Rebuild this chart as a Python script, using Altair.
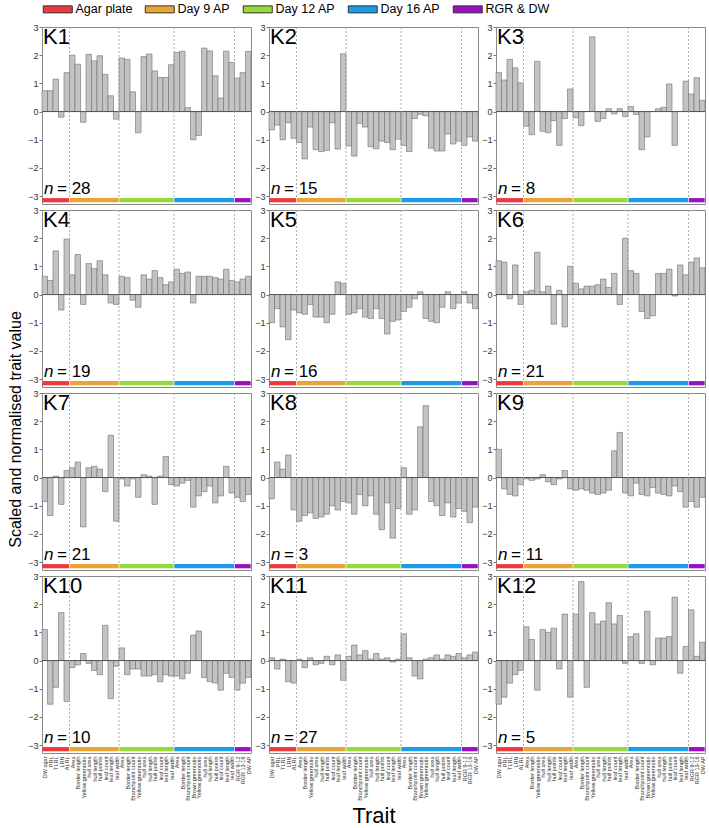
import altair as alt
import pandas as pd

FONT = "Liberation Sans"

group_names = ["Agar plate", "Day 9 AP", "Day 12 AP", "Day 16 AP", "RGR & DW"]
group_sizes = [5, 9, 10, 11, 3]
group_colors = ["#EB3A3C", "#E8A535", "#98D93A", "#1B9CEA", "#9A10C0"]

traits = [
    "DW agar", "PRL", "TLRL", "LRN", "ALRL",
    "Area", "Border length", "Yellow:greenratio", "hull area", "hull length",
    "hull points", "leaf count", "leaf length", "leaf width",
    "Area", "Border length", "Branchpoint count", "Yellow:greenratio", "hull area",
    "hull length", "hull points", "leaf count", "leaf length", "leaf width",
    "Area", "Border length", "Branchpoint count", "Brown:greenratio", "Yellow:greenratio",
    "hull area", "hull length", "hull points", "leaf count", "leaf length", "leaf width",
    "RGR 9-12", "RGR 13-16", "DW AP",
]

panel_names = ["K1", "K2", "K3", "K4", "K5", "K6", "K7", "K8", "K9", "K10", "K11", "K12"]
panel_n = [28, 15, 8, 19, 16, 21, 21, 3, 11, 10, 27, 5]

K1 = [0.74, 0.74, 1.15, -0.2, 1.38,
      2.0, 1.68, -0.38, 2.03, 1.8, 1.98, 1.32, 0.56, -0.27,
      1.9, 1.85, 0.7, -0.75, 1.95, 2.04, 1.44, 1.21, 1.21, 1.66,
      2.1, 2.14, 0.14, -1.0, -0.85, 2.25, 2.15, 1.27, 0.48, 2.14, 1.74,
      1.19, 1.38, 2.13]
K2 = [-0.65, -0.48, -1.0, -0.4, -0.95,
      -1.1, -1.68, -0.55, -1.35, -1.42, -1.38, -0.4, -1.33, 2.05,
      -1.22, -1.58, -0.42, -0.55, -1.25, -1.32, -1.05, -1.1, -1.35, -0.98,
      -1.2, -1.42, -0.25, -0.1, -0.15, -1.3, -1.4, -1.4, -0.8, -1.15, -1.05,
      -1.2, -0.9, -1.05]
K3 = [1.38, 1.12, 1.85, 1.55, 1.02,
      -0.52, -0.82, 1.78, -0.7, -0.75, -0.32, -1.2, -0.25, 0.8,
      -0.22, -0.5, 0.0, 2.65, -0.35, -0.25, 0.1, -0.08, 0.1, -0.18,
      0.18, -0.1, -1.35, -0.9, 0.0, 0.1, 0.15, 0.98, -1.2, 0.0, 1.08,
      0.62, 1.2, 0.4]
K4 = [0.65, 0.5, 1.55, -0.55, 1.97,
      0.7, 1.42, -0.35, 1.1, 0.92, 1.2, 0.7, -0.3, -0.35,
      0.65, 0.6, -0.2, -0.45, 0.7, 0.55, 0.85, 0.6, 0.35, 0.45,
      0.9, 0.75, 0.8, -0.3, 0.65, 0.65, 0.65, 0.6, 0.55, 0.9, 0.5,
      0.45, 0.55, 0.65]
K5 = [-1.0, -0.5, -1.15, -1.6, -0.55,
      -0.65, -0.7, -0.35, -0.8, -0.8, -1.0, -0.7, 0.45, 0.4,
      -0.7, -0.65, -0.5, -0.8, -0.85, -0.5, -0.85, -1.4, -0.95, -0.9,
      -0.6, -0.45, -0.15, 0.1, -0.85, -0.95, -1.0, -0.45, 0.1, -0.5, -0.3,
      0.1, -0.3, -0.5]
K6 = [1.2, 1.15, -0.15, 1.05, -0.35,
      0.1, 0.15, 1.5, 0.1, 0.3, -1.05, 0.15, -1.15, 1.0,
      0.4, 0.2, 0.3, 0.3, 0.35, 0.55, 0.25, 0.75, -0.35, 2.0,
      0.85, 0.75, -0.6, -0.85, -0.75, 0.75, 0.75, 0.9, -0.05, 1.05, 0.7,
      1.15, 1.3, 0.95]
K7 = [-0.85, -1.35, 0.05, -0.95, 0.25,
      0.35, 0.55, -1.75, 0.35, 0.4, 0.3, -0.5, 1.5, -1.55,
      -0.05, -0.3, -0.05, -0.7, 0.1, 0.05, -0.95, 0.05, 0.75, -0.25,
      -0.3, -0.2, -0.1, -1.05, -0.65, -0.5, -0.3, -0.9, -0.65, 0.4, -0.55,
      -0.7, -0.85, -0.6]
K8 = [-0.75, 0.55, 0.3, 0.8, -1.15,
      -1.55, -1.35, -1.25, -1.45, -1.4, -1.3, -1.0, -1.15, -0.85,
      -0.9, -1.3, -0.6, -1.0, -0.65, -1.3, -1.85, -0.9, -2.15, -1.1,
      0.35, -1.3, -1.15, 1.8, 2.55, -0.85, -1.0, -1.35, -0.9, -1.4, -1.1,
      -1.2, -1.6, -1.05]
K9 = [1.0, -0.4, -0.6, -0.65, -0.25,
      -0.05, -0.1, -0.05, 0.1, -0.15, -0.25, -0.05, 0.25, -0.4,
      -0.45, -0.4, -0.45, -0.55, -0.6, -0.55, -0.45, 0.95, 1.6, -0.55,
      -0.65, -0.2, -0.6, -0.65, -0.35, -0.55, -0.6, -0.65, -0.3, -0.5, -1.05,
      -0.85, -1.05, -0.7]
K10 = [1.1, -1.55, -0.95, 1.7, -1.45,
       -0.25, -0.15, 0.25, -0.1, -0.35, -0.5, 1.25, -1.35, -0.2,
       0.45, -0.5, -0.3, -0.3, -0.55, -0.55, -0.5, -0.75, -0.5, -0.55,
       -0.55, -0.65, -0.45, 0.9, 1.05, -0.6, -0.75, -0.8, -1.05, -0.45, -0.6,
       -1.05, -0.8, -0.6]
K11 = [0.1, -0.3, 0.05, -0.75, -0.8,
       0.05, -0.25, 0.1, -0.15, -0.1, 0.15, -0.15, 0.2, -0.7,
       0.15, 0.55, 0.2, 0.35, 0.05, 0.25, 0.05, 0.1, -0.05, 0.05,
       0.95, 0.1, -0.55, -0.65, 0.05, 0.1, 0.2, 0.05, 0.2, 0.15, 0.25,
       0.1, 0.2, 0.3]
K12 = [-1.55, -1.3, -0.8, -0.5, -0.35,
       1.2, 0.75, -1.05, 1.1, 1.0, 1.15, -0.3, 1.65, -1.3,
       1.65, 2.8, -0.95, 1.7, 1.3, 1.4, 2.05, 1.3, 1.6, -0.1,
       0.85, 0.95, -0.1, 1.75, -0.15, 0.8, 0.8, 0.85, 2.25, -0.45, 0.5,
       1.8, 0.15, 0.65]

values = [K1, K2, K3, K4, K5, K6, K7, K8, K9, K10, K11, K12]

n_traits = len(traits)
starts = []
acc = 0
for s in group_sizes:
    starts.append(acc)
    acc += s
ends = [st + s for st, s in zip(starts, group_sizes)]
boundaries = starts[1:]

strip_df = pd.DataFrame({
    "group": group_names,
    "start": [st + 0.06 for st in starts],
    "end": [e - 0.06 for e in ends],
})
bnd_df = pd.DataFrame({"b": boundaries})
one_df = pd.DataFrame({"z": [0]})

label_expr = "[" + ",".join("'" + t + "'" for t in traits) + "][floor(datum.value)]"
x_tick_values = [k + 0.5 for k in range(n_traits)]
y_tick_values = [-3, -2, -1, 0, 1, 2, 3]

xscale = alt.Scale(domain=[0, n_traits], nice=False, zero=False)
yscale = alt.Scale(domain=[-3.28, 3], nice=False, zero=False)

# wide, flat legend swatch: a small layout symbol drawn with an extended path
legend = alt.Legend(
    orient="top", offset=6, direction="horizontal", title=None,
    symbolType="M-1,-0.7H4.8V0.7H-1Z", symbolSize=100,
    symbolStrokeColor="#333333", symbolStrokeWidth=1, symbolOpacity=1,
    labelFontSize=12.5, labelOffset=21, columnPadding=10, labelColor="#000000",
    labelFont=FONT, columns=5,
)


def panel(i):
    row, col = divmod(i, 3)
    df = pd.DataFrame({"idx": list(range(n_traits)), "value": values[i]})
    df["x0"] = df["idx"]
    df["x1"] = df["idx"] + 1

    if row == 3:
        xaxis = alt.Axis(
            values=x_tick_values, tickCount=len(x_tick_values), labelExpr=label_expr,
            labelAngle=270, labelFontSize=5.5, ticks=False, domain=False, grid=False,
            labelPadding=3, labelColor="#333333", labelOverlap=False, labelFlush=False,
            title="Trait" if col == 1 else None,
            titleFontSize=22, titleFontWeight="normal", titleY=52,
            titleBaseline="top", titleColor="#000000",
        )
    else:
        xaxis = None

    ykw = dict(values=y_tick_values, tickCount=len(y_tick_values), tickSize=3, labelFontSize=9,
               domain=False, grid=False, tickColor="#777777", labelColor="#333333",
               labelPadding=1, labelOverlap=False, labelFlush=False)
    if i == 3:
        yaxis = alt.Axis(title="Scaled and normalised trait value", titleFontSize=16,
                         titleFontWeight="normal", titleX=-27, titleY=219,
                         titleAlign="center", titleBaseline="middle",
                         titleColor="#000000", **ykw)
    else:
        yaxis = alt.Axis(title=None, **ykw)

    bars = alt.Chart(df).mark_rect(fill="#C3C3C3", stroke="#6F6F6F", strokeWidth=0.6).encode(
        x=alt.X("x0:Q", scale=xscale, axis=xaxis),
        x2="x1:Q",
        y=alt.Y("value:Q", scale=yscale, axis=yaxis),
        y2=alt.datum(0),
    )
    zero = alt.Chart(one_df).mark_rule(color="#555555", strokeWidth=1).encode(y="z:Q")
    dashed = alt.Chart(bnd_df).mark_rule(strokeDash=[2, 2], color="#9A9A9A", strokeWidth=0.8).encode(
        x="b:Q", y=alt.datum(3), y2=alt.datum(-3.07)
    )
    strip = alt.Chart(strip_df).mark_rect().encode(
        x="start:Q", x2="end:Q", y=alt.datum(-3.07), y2=alt.datum(-3.22),
        color=alt.Color("group:N", scale=alt.Scale(domain=group_names, range=group_colors),
                        legend=legend),
    )
    ktext = alt.Chart(one_df).mark_text(align="left", baseline="top", fontSize=22, dx=1, dy=0,
                                        color="#000000").encode(
        x=alt.datum(0), y=alt.datum(3), text=alt.value(panel_names[i])
    )
    ntext = alt.Chart(one_df).mark_text(align="left", baseline="alphabetic", fontSize=17,
                                        fontStyle="italic", dx=2, dy=-2, color="#000000").encode(
        x=alt.datum(0), y=alt.datum(-3), text=alt.value("n")
    )
    nval = alt.Chart(one_df).mark_text(align="left", baseline="alphabetic", fontSize=17,
                                       dx=15, dy=-2, color="#000000").encode(
        x=alt.datum(0), y=alt.datum(-3), text=alt.value("= " + str(panel_n[i]))
    )
    return alt.layer(bars, zero, dashed, strip, ktext, ntext, nval).properties(width=209, height=177)


chart = alt.concat(
    *[panel(i) for i in range(12)], columns=3, spacing={"row": 6, "column": 18}, bounds="flush"
).properties(
    padding={"left": 6, "top": 3, "right": 2, "bottom": 2}
).configure(font=FONT).configure_view(
    stroke="#8A8A8A", strokeWidth=1
).configure_axis(labelOverlap=False, labelFlush=False)

chart.save("out.html", embed_options={"renderer": "svg", "actions": False})
